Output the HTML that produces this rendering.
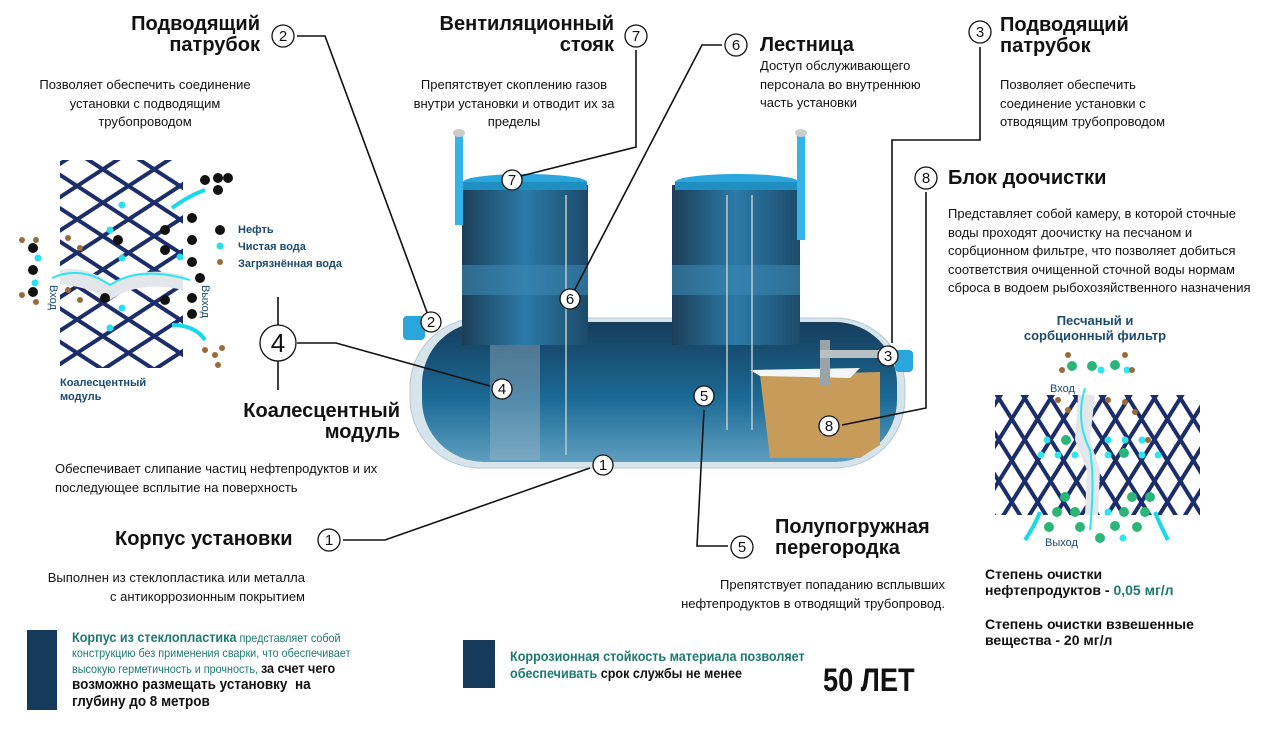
<!DOCTYPE html>
<html><head><meta charset="utf-8"><style>
body{margin:0;width:1280px;height:742px;background:#fff;position:relative;overflow:hidden;font-family:"Liberation Sans","DejaVu Sans",sans-serif;color:#111}
.t{position:absolute;white-space:nowrap}
.h{font-weight:bold;font-size:20px;line-height:21px}
.d{font-size:13px;line-height:18.5px}
.r{text-align:right}
.c{text-align:center}
.nv{color:#1b4a6e;font-weight:bold;font-size:11px}
</style></head><body>
<svg width="1280" height="742" style="position:absolute;left:0;top:0">
<defs>
<linearGradient id="tk" x1="0" y1="0" x2="0" y2="1"><stop offset="0" stop-color="#163d5c"/><stop offset=".55" stop-color="#1b6a96"/><stop offset="1" stop-color="#5f9fc0"/></linearGradient>
<linearGradient id="cy" x1="0" y1="0" x2="1" y2="0"><stop offset="0" stop-color="#1d3e58"/><stop offset=".5" stop-color="#2b7aa8"/><stop offset="1" stop-color="#1d4a6a"/></linearGradient>
<pattern id="p1" width="28" height="28" patternUnits="userSpaceOnUse" patternTransform="rotate(33)"><rect width="28" height="4" fill="#1b2d6b"/></pattern>
<pattern id="p2" width="28" height="28" patternUnits="userSpaceOnUse" patternTransform="rotate(-33)"><rect width="28" height="4" fill="#1b2d6b"/></pattern>
<pattern id="p3" width="22" height="22" patternUnits="userSpaceOnUse" patternTransform="rotate(58)"><rect width="22" height="4" fill="#1b2d6b"/></pattern>
<pattern id="p4" width="22" height="22" patternUnits="userSpaceOnUse" patternTransform="rotate(-58)"><rect width="22" height="4" fill="#1b2d6b"/></pattern>
</defs>
<rect x="60" y="160" width="123" height="208" fill="url(#p1)"/>
<rect x="60" y="160" width="123" height="208" fill="url(#p2)"/>
<path d="M60 270 Q90 265 110 285 Q140 265 183 275 L183 290 Q140 280 110 300 Q85 285 60 285Z" fill="#e3e6ea"/>
<path d="M52 278 Q80 265 110 285 Q140 265 190 280" stroke="#2ee6f0" stroke-width="2" fill="none"/>
<path d="M172 208 Q190 195 205 190" stroke="#18d9ea" stroke-width="4" fill="none"/>
<path d="M172 325 Q195 325 205 340" stroke="#18d9ea" stroke-width="4" fill="none"/>
<g fill="#111"><circle cx="205" cy="180" r="5"/><circle cx="218" cy="178" r="5"/><circle cx="228" cy="178" r="5"/><circle cx="218" cy="190" r="5"/><circle cx="192" cy="218" r="5"/><circle cx="192" cy="240" r="5"/><circle cx="192" cy="262" r="5"/><circle cx="200" cy="278" r="5"/><circle cx="192" cy="298" r="5"/><circle cx="192" cy="314" r="5"/><circle cx="33" cy="248" r="5"/><circle cx="33" cy="270" r="5"/><circle cx="33" cy="292" r="5"/><circle cx="220" cy="230" r="5"/><circle cx="118" cy="240" r="5"/><circle cx="165" cy="230" r="5"/><circle cx="165" cy="250" r="5"/><circle cx="165" cy="300" r="5"/><circle cx="105" cy="298" r="5"/></g>
<g fill="#25e0ee"><circle cx="220" cy="246" r="3.5"/><circle cx="38" cy="258" r="3.5"/><circle cx="35" cy="283" r="3.5"/><circle cx="122" cy="205" r="3.5"/><circle cx="110" cy="230" r="3.5"/><circle cx="122" cy="258" r="3.5"/><circle cx="122" cy="308" r="3.5"/><circle cx="110" cy="328" r="3.5"/><circle cx="180" cy="257" r="3.5"/></g>
<g fill="#9a6a3a"><circle cx="220" cy="262" r="3"/><circle cx="22" cy="240" r="3"/><circle cx="36" cy="240" r="3"/><circle cx="22" cy="295" r="3"/><circle cx="36" cy="302" r="3"/><circle cx="205" cy="350" r="3"/><circle cx="215" cy="355" r="3"/><circle cx="222" cy="348" r="3"/><circle cx="218" cy="365" r="3"/><circle cx="68" cy="238" r="3"/><circle cx="80" cy="248" r="3"/><circle cx="68" cy="290" r="3"/><circle cx="80" cy="300" r="3"/></g>
<rect x="995" y="395" width="205" height="120" fill="url(#p3)"/>
<rect x="995" y="395" width="205" height="120" fill="url(#p4)"/>
<path d="M1078 395 L1095 395 L1090 440 L1100 470 L1098 515 L1085 515 L1087 470 L1075 440Z" fill="#e3e6ea"/>
<path d="M1085 388 Q1075 420 1090 450 Q1095 480 1090 530" stroke="#2ee6f0" stroke-width="2" fill="none"/>
<path d="M1040 512 Q1035 525 1025 540 M1155 512 Q1160 525 1168 540" stroke="#18d9ea" stroke-width="4" fill="none"/>
<g fill="#2bb578"><circle cx="1072" cy="366" r="5"/><circle cx="1092" cy="366" r="5"/><circle cx="1115" cy="365" r="5"/><circle cx="1066" cy="440" r="5"/><circle cx="1124" cy="453" r="5"/><circle cx="1065" cy="497" r="5"/><circle cx="1132" cy="497" r="5"/><circle cx="1150" cy="497" r="5"/><circle cx="1057" cy="512" r="5"/><circle cx="1075" cy="512" r="5"/><circle cx="1124" cy="512" r="5"/><circle cx="1145" cy="512" r="5"/><circle cx="1049" cy="527" r="5"/><circle cx="1080" cy="527" r="5"/><circle cx="1115" cy="526" r="5"/><circle cx="1137" cy="527" r="5"/><circle cx="1100" cy="538" r="5"/></g>
<g fill="#2ee6f0"><circle cx="1101" cy="370" r="3.5"/><circle cx="1127" cy="370" r="3.5"/><circle cx="1047" cy="440" r="3.5"/><circle cx="1041" cy="455" r="3.5"/><circle cx="1058" cy="455" r="3.5"/><circle cx="1075" cy="455" r="3.5"/><circle cx="1108" cy="440" r="3.5"/><circle cx="1125" cy="440" r="3.5"/><circle cx="1142" cy="440" r="3.5"/><circle cx="1108" cy="455" r="3.5"/><circle cx="1142" cy="455" r="3.5"/><circle cx="1158" cy="455" r="3.5"/><circle cx="1108" cy="512" r="3.5"/><circle cx="1123" cy="538" r="3.5"/></g>
<g fill="#9a6a3a"><circle cx="1068" cy="355" r="3"/><circle cx="1125" cy="355" r="3"/><circle cx="1062" cy="370" r="3"/><circle cx="1132" cy="370" r="3"/><circle cx="1058" cy="400" r="3"/><circle cx="1068" cy="410" r="3"/><circle cx="1108" cy="400" r="3"/><circle cx="1125" cy="402" r="3"/><circle cx="1135" cy="412" r="3"/><circle cx="1148" cy="440" r="3"/></g>
<rect x="410" y="318" width="495" height="150" rx="70" fill="#d6e4ec" stroke="#b8c8d2"/>
<rect x="422" y="322" width="475" height="140" rx="62" fill="url(#tk)"/>
<path d="M760 375 L880 372 L880 445 L860 458 L770 458 Z" fill="#c79b5a"/>
<path d="M750 370 L860 368 L850 378 L760 376Z" fill="#f4f6f8"/>
<rect x="820" y="340" width="10" height="45" fill="#9aa3a8"/>
<rect x="820" y="350" width="80" height="8" fill="#b9c0c4"/>
<rect x="403" y="316" width="22" height="24" rx="4" fill="#2aa6dc"/>
<rect x="895" y="350" width="18" height="22" rx="4" fill="#2aa6dc"/>
<path d="M490 335 L540 335 L540 460 L490 460Z" fill="#a8bcc8" opacity=".4"/>
<rect x="462" y="185" width="126" height="160" fill="url(#cy)"/>
<rect x="672" y="185" width="128" height="160" fill="url(#cy)"/>
<rect x="462" y="265" width="126" height="30" fill="#3b87b2" opacity=".6"/>
<rect x="672" y="265" width="128" height="30" fill="#3b87b2" opacity=".6"/>
<ellipse cx="525" cy="182" rx="62" ry="8" fill="#2aa6dc"/><rect x="463" y="182" width="124" height="8" fill="#1f8fc2"/>
<ellipse cx="737" cy="182" rx="62" ry="8" fill="#2aa6dc"/><rect x="675" y="182" width="124" height="8" fill="#1f8fc2"/>
<rect x="455" y="135" width="8" height="90" fill="#35b3e6"/><ellipse cx="459" cy="133" rx="6" ry="4" fill="#ccc"/>
<rect x="797" y="135" width="8" height="105" fill="#35b3e6"/><ellipse cx="801" cy="133" rx="6" ry="4" fill="#ccc"/>
<g stroke="#c0c8cc" stroke-width="1.5"><line x1="727" y1="195" x2="727" y2="430"/><line x1="752" y1="195" x2="752" y2="430"/><line x1="566" y1="195" x2="566" y2="455"/></g>
<g stroke="#111" stroke-width="1.6" fill="none">
<path d="M297 36 H325 L428 315"/>
<path d="M636 50 V147 L521 176"/>
<path d="M722 45 H702 L574 291"/>
<path d="M980 47 V140 H892 V343"/>
<path d="M926 192 V408 L842 425"/>
<path d="M278 297 V325 M278 361 V390 M297 343 H336 L490 386"/>
<path d="M343 540 H385 L590 468"/>
<path d="M704 410 L697 546 H728"/>
</g>
<g fill="#fff" stroke="#111" stroke-width="1.3">
<circle cx="283" cy="36" r="11"/><circle cx="636" cy="36" r="11"/><circle cx="736" cy="45" r="11"/><circle cx="980" cy="32" r="11"/><circle cx="926" cy="178" r="11"/><circle cx="329" cy="540" r="11"/><circle cx="742" cy="547" r="11"/><circle cx="278" cy="343" r="18"/>
<circle cx="431" cy="322" r="10"/><circle cx="512" cy="180" r="10"/><circle cx="570" cy="299" r="10"/><circle cx="888" cy="356" r="10"/><circle cx="829" cy="426" r="10"/><circle cx="502" cy="389" r="10"/><circle cx="603" cy="465" r="10"/><circle cx="704" cy="396" r="10"/>
</g>
<g font-family="Liberation Sans" font-size="15" text-anchor="middle" fill="#111">
<text x="283" y="41">2</text><text x="636" y="41">7</text><text x="736" y="50">6</text><text x="980" y="37">3</text><text x="926" y="183">8</text><text x="329" y="545">1</text><text x="742" y="552">5</text><text x="278" y="352" font-size="26">4</text>
<text x="431" y="327">2</text><text x="512" y="185">7</text><text x="570" y="304">6</text><text x="888" y="361">3</text><text x="829" y="431">8</text><text x="502" y="394">4</text><text x="603" y="470">1</text><text x="704" y="401">5</text>
</g>
<g font-family="Liberation Sans" font-size="11" fill="#1b4a6e"><text transform="translate(50,285) rotate(90)">Вход</text><text transform="translate(202,285) rotate(90)">Выход</text><text x="1050" y="392">Вход</text><text x="1045" y="546">Выход</text></g>
</svg>

<div class="t h r" style="right:1020px;top:14px">Подводящий<br>патрубок</div>
<div class="t d c" style="left:30px;width:230px;top:76px">Позволяет обеспечить соединение<br>установки с подводящим<br>трубопроводом</div>
<div class="t h r" style="right:666px;top:14px">Вентиляционный<br>стояк</div>
<div class="t d c" style="left:400px;width:228px;top:76px">Препятствует скоплению газов<br>внутри установки и отводит их за<br>пределы</div>
<div class="t h" style="left:760px;top:35px">Лестница</div>
<div class="t d" style="left:760px;top:57px">Доступ обслуживающего<br>персонала во внутреннюю<br>часть установки</div>
<div class="t h" style="left:1000px;top:15px">Подводящий<br>патрубок</div>
<div class="t d" style="left:1000px;top:76px">Позволяет обеспечить<br>соединение установки с<br>отводящим трубопроводом</div>
<div class="t h" style="left:948px;top:168px">Блок доочистки</div>
<div class="t d" style="left:948px;top:205px">Представляет собой камеру, в которой сточные<br>воды проходят доочистку на песчаном и<br>сорбционном фильтре, что позволяет добиться<br>соответствия очищенной сточной воды нормам<br>сброса в водоем рыбохозяйственного назначения</div>
<div class="t nv c" style="left:1010px;top:313px;width:170px;font-size:13px;line-height:15px">Песчаный и<br>сорбционный фильтр</div>
<div class="t nv" style="left:238px;top:222px;line-height:17px">Нефть<br>Чистая вода<br>Загрязнённая вода</div>
<div class="t nv" style="left:60px;top:376px;line-height:14px">Коалесцентный<br>модуль</div>
<div class="t h r" style="right:880px;top:401px">Коалесцентный<br>модуль</div>
<div class="t d" style="left:55px;top:460px">Обеспечивает слипание частиц нефтепродуктов и их<br>последующее всплытие на поверхность</div>
<div class="t h" style="left:115px;top:529px">Корпус установки</div>
<div class="t d r" style="right:975px;top:569px">Выполнен из стеклопластика или металла<br>с антикоррозионным покрытием</div>
<div class="t h" style="left:775px;top:517px">Полупогружная<br>перегородка</div>
<div class="t d r" style="right:335px;top:576px">Препятствует попаданию всплывших<br>нефтепродуктов в отводящий трубопровод.</div>
<div class="t" style="left:985px;top:566px;font-weight:bold;font-size:14px;line-height:16px">Степень очистки<br>нефтепродуктов - <span style="color:#1c7a70">0,05 мг/л</span></div>
<div class="t" style="left:985px;top:616px;font-weight:bold;font-size:14px;line-height:16px">Степень очистки взвешенные<br>вещества - 20 мг/л</div>
<div class="t" style="left:27px;top:630px;width:30px;height:80px;background:#153a5a"></div>
<div class="t" style="left:72px;top:630px;font-size:12px;line-height:15px;color:#1c7a70;transform:scaleX(.9);transform-origin:left"><b style="font-size:14px">Корпус из стеклопластика</b> представляет собой<br>конструкцию без применения сварки, что обеспечивает<br>высокую герметичность и прочность, <b style="color:#111;font-size:14px">за счет чего</b></div>
<div class="t" style="left:72px;top:676px;font-size:15px;line-height:17px;font-weight:bold;transform:scaleX(.9);transform-origin:left">возможно размещать установку&nbsp; на<br>глубину до 8 метров</div>
<div class="t" style="left:463px;top:640px;width:32px;height:48px;background:#153a5a"></div>
<div class="t" style="left:510px;top:648px;font-size:14px;line-height:17px;font-weight:bold;color:#1c7a70;transform:scaleX(.9);transform-origin:left">Коррозионная стойкость материала позволяет<br>обеспечивать <span style="color:#111">срок службы не менее</span></div>
<div class="t" style="left:823px;top:662px;font-size:32px;font-weight:bold;transform:scaleX(.85);transform-origin:left">50 ЛЕТ</div>
</body></html>
